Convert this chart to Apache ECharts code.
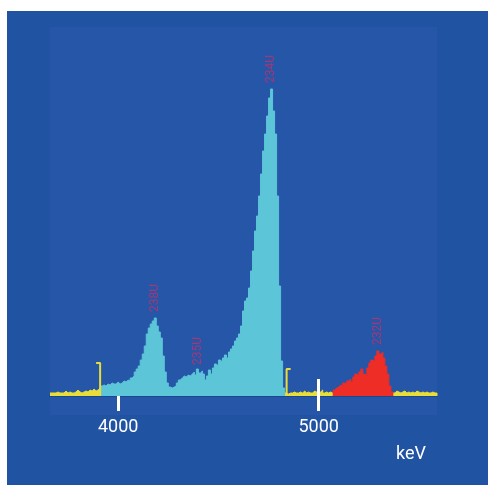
<!DOCTYPE html>
<html><head><meta charset="utf-8">
<script src="https://cdn.jsdelivr.net/npm/echarts@6/dist/echarts.min.js"></script>
<style>html,body{margin:0;padding:0;background:#fff}#c{width:488px;height:485px}</style>
</head><body><div id="c"></div>
<script>
const BIN = 10; // keV per histogram channel
const axisTicks = [4000, 5000];
const cursorTicks = [5000];
const yellowLeftStart = 3660;
const yellowLeft = [3,3,3,4,3,3,3,5,3,4,3,3,4,6,4,3,4,5,4,6,5,7,5,6,8];
const cyanStart = 3910;
const cyan = [10,11,10,12,11,13,12,12,14,12,
  13,15,14,16,15,18,20,24,27,30,
  36,42,50,62,68,72,75,78,70,64,
  58,40,24,13,9,8,9,10,13,16,
  18,20,19,21,20,22,24,21,27,23,
  25,22,16,20,26,22,28,32,30,36,
  34,38,41,38,44,47,50,55,58,62,
  70,85,95,98,108,125,145,165,180,200,
  222,245,262,280,298,307,285,262,200,110,
  35,8];
const yellowMidStart = 4830;
const yellowMid = [3,2,3,3,4,3,3,4,3,5,3,4,3,3,5,4,3,4,6,3,4,3,4,3];
const redStart = 5070;
const red = [6,8,9,11,10,13,12,15,17,14,19,22,20,24,27,22,20,28,33,36,34,40,45,42,44,38,30,22,10,4];
const yellowRightStart = 5370;
const yellowRight = [3,5,4,3,4,5,3,4,3,4,3,5,4,3,4,3,4,3,3,4,3,3];
const roiEdges = [3910, 4840];
const roiHeights = [33, 27];
const roiDir = [-1, 1];
const peakLabels = ['238U','235U','234U','232U'];
const peakEnergies = [4183, 4400, 4762, 5295];
const peakCounts = [78, 25, 307, 45];

function steps(start, vals){
  const d = vals.map((v,i)=>[start + i*BIN, v]);
  d.push([start + vals.length*BIN, 0]);
  return d;
}
const YEL = '#e9dd3a', CYAN = '#5cc6d8', RED = '#ee2d27';
function histo(start, vals, color, z){
  return {type:'line', step:'end', data:steps(start, vals), showSymbol:false, z:z,
    lineStyle:{color:color, width:1}, areaStyle:{color:color, opacity:1}, silent:true, animation:false};
}
const series = [
  histo(yellowLeftStart, yellowLeft, YEL, 1),
  histo(yellowMidStart, yellowMid, YEL, 1),
  histo(yellowRightStart, yellowRight, YEL, 1),
  histo(cyanStart, cyan, CYAN, 3),
  histo(redStart, red, RED, 3)
];
roiEdges.forEach((e,i)=>{
  series.push({type:'line', data:[[e + roiDir[i]*20, roiHeights[i]],[e, roiHeights[i]],[e, 0]],
    showSymbol:false, z:4, lineStyle:{color:YEL, width:2}, animation:false, silent:true});
});
series.push({type:'scatter', symbolSize:0, z:5, animation:false, silent:true,
  data: peakEnergies.map((e,i)=>({value:[e, peakCounts[i]], name:peakLabels[i]})),
  label:{show:true, position:'top', distance:6, rotate:90, align:'left', verticalAlign:'middle',
    formatter:p=>p.name, color:'#c4306a', fontSize:12, fontFamily:'Roboto'}});

const chart = echarts.init(document.getElementById('c'), null, {renderer:'canvas'});
chart.setOption({
  animation:false,
  backgroundColor:'#ffffff',
  graphic:[
    {type:'rect', z:-10, shape:{x:7, y:11, width:481, height:474}, style:{fill:'#2153a3'}},
    {type:'rect', z:-9, shape:{x:50, y:27, width:387, height:388}, style:{fill:'#2556a8'}}
  ],
  title:{text:'keV', left:396, top:445, padding:0, textStyle:{color:'#fff', fontSize:18, fontWeight:'normal', fontFamily:'Roboto'}},
  grid:{left:50, right:51, top:27, bottom:89},
  xAxis:[
    {type:'value', min:3660, max:5590, position:'bottom', z:0,
     axisLine:{show:true, lineStyle:{color:'#1b4790', width:2}},
     axisTick:{show:true, customValues:axisTicks, length:15, lineStyle:{color:'#fff', width:3}},
     axisLabel:{show:true, customValues:axisTicks, formatter:v=>String(v), color:'#fff', fontSize:18, fontFamily:'Roboto', margin:22},
     splitLine:{show:false}},
    {type:'value', min:3660, max:5590, position:'bottom', z:2,
     axisLine:{show:false},
     axisTick:{show:true, inside:true, customValues:cursorTicks, length:17, lineStyle:{color:'#fff', width:3}},
     axisLabel:{show:false}, splitLine:{show:false}}
  ],
  yAxis:{type:'value', min:0, max:369, show:false, splitLine:{show:false}},
  series: series
});
</script></body></html>
